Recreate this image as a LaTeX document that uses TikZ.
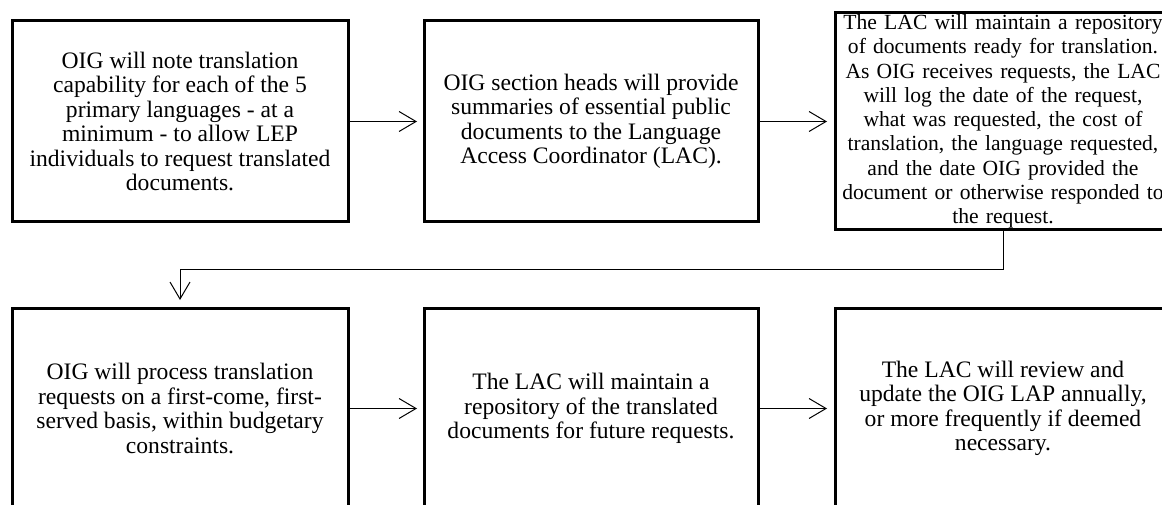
\documentclass[tikz,border=0pt]{standalone}
\usepackage{fontspec}
\setmainfont{Liberation Serif}
\usetikzlibrary{arrows.meta}
\begin{document}
\begin{tikzpicture}[x=1pt,y=-1pt,
  stepbox/.style={draw, line width=3pt, inner sep=0pt, outer sep=0pt,
    align=center, font=\fontsize{23.6}{24.4}\selectfont,
    minimum width=336pt, minimum height=201pt},
  densebox/.style={stepbox, font=\fontsize{21.6}{24.3}\selectfont,
    text width=330pt, minimum height=217pt},
  flow/.style={line width=1pt, -{Straight Barb[length=17pt,width=20pt,line width=1pt]}}
]
\useasboundingbox (0,0) rectangle (1162,505);
\clip (0,0) rectangle (1162,505);

% top row
\node[stepbox] (b1) at (180,121.5) {OIG will note translation\\capability for each of the 5\\primary languages - at a\\minimum - to allow LEP\\individuals to request translated\\documents.};
\node[stepbox, minimum width=334pt] (b2) at (591,121.5) {OIG section heads will provide\\summaries of essential public\\documents to the Language\\Access Coordinator (LAC).};
\node[densebox] (b3) at (1003,121.5) {The LAC will maintain a repository\\of documents ready for translation.\\As OIG receives requests, the LAC\\will log the date of the request,\\what was requested, the cost of\\translation, the language requested,\\and the date OIG provided the\\document or otherwise responded to\\the request.};

% bottom row
\node[stepbox] (b4) at (180,408.5) {OIG will process translation\\requests on a first-come, first-\\served basis, within budgetary\\constraints.};
\node[stepbox, minimum width=334pt] (b5) at (591,408.5) {The LAC will maintain a\\repository of the translated\\documents for future requests.};
\node[stepbox] (b6) at (1003,408.5) {The LAC will review and\\update the OIG LAP annually,\\or more frequently if deemed\\necessary.};

% connectors
\draw[flow, shorten >=7pt] (b1.east) -- (b2.west);
\draw[flow, shorten >=8pt] (b2.east) -- (b3.west);
\coordinate (turn) at (1003,269);
\draw[flow, shorten >=8pt] (b3.south) -- (turn) -| (b4.north);
\draw[flow, shorten >=7pt] (b4.east) -- (b5.west);
\draw[flow, shorten >=8pt] (b5.east) -- (b6.west);
\end{tikzpicture}
\end{document}
